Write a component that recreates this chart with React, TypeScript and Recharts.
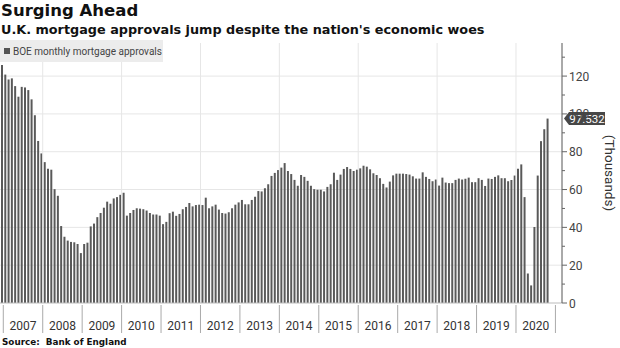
import { BarChart, Bar, XAxis, YAxis, CartesianGrid, ReferenceLine } from "recharts";

// BOE monthly mortgage approvals (thousands), Dec 2006 .. Oct 2020
const dec2006 = [125.8];
const y2007 = [120.8, 118.2, 118.8, 114.7, 109.1, 114.3, 114.0, 112.6, 107.7, 99.3, 85.7, 79.1];
const y2008 = [74.5, 71.0, 70.5, 60.2, 56.7, 40.7, 35.1, 33.0, 32.3, 32.1, 31.2, 26.4];
const y2009 = [31.2, 31.9, 40.5, 42.0, 45.4, 47.6, 50.4, 53.6, 52.5, 55.3, 56.0, 57.2];
const y2010 = [58.3, 46.2, 47.6, 49.2, 50.1, 49.9, 49.6, 48.9, 47.6, 46.8, 46.8, 46.2];
const y2011 = [41.7, 42.9, 47.5, 48.3, 46.1, 47.1, 49.6, 50.8, 52.9, 51.1, 51.8, 52.0];
const y2012 = [51.8, 55.7, 50.1, 51.1, 52.0, 49.4, 47.6, 47.3, 48.0, 50.1, 52.0, 53.2];
const y2013 = [54.5, 52.2, 52.2, 54.5, 56.2, 59.2, 59.0, 60.7, 62.8, 67.2, 68.8, 70.3];
const y2014 = [71.6, 74.0, 69.8, 68.2, 65.1, 62.0, 67.7, 66.7, 64.6, 62.0, 60.2, 59.9];
const y2015 = [59.9, 59.0, 61.4, 62.8, 68.9, 65.1, 67.9, 70.9, 71.9, 70.9, 69.8, 70.5];
const y2016 = [71.2, 72.6, 72.1, 70.7, 68.6, 67.7, 66.0, 63.0, 61.1, 64.2, 67.5, 68.4];
const y2017 = [68.4, 68.4, 68.2, 67.9, 67.0, 65.8, 65.8, 69.1, 66.7, 65.6, 64.4, 65.3];
const y2018 = [62.1, 66.3, 63.7, 63.4, 63.4, 65.1, 65.8, 65.3, 65.7, 66.3, 63.9, 63.9];
const y2019 = [66.0, 65.1, 61.9, 65.8, 65.6, 66.7, 67.5, 66.0, 66.0, 64.4, 65.1, 67.4];
const y2020 = [71.0, 73.3, 56.0, 15.6, 9.3, 40.2, 67.4, 85.6, 91.9, 97.532];

const years = [
  "2007", "2008", "2009", "2010", "2011", "2012", "2013",
  "2014", "2015", "2016", "2017", "2018", "2019", "2020",
];
const yTicks = [0, 10, 20, 30, 40, 50, 60, 70, 80, 90, 100, 110, 120, 130];
const gridValues = [20, 40, 60, 80, 100, 120];
const gridYears = ["2008", "2010", "2012", "2014", "2016", "2018", "2020"];

const values = [
  ...dec2006, ...y2007, ...y2008, ...y2009, ...y2010, ...y2011, ...y2012,
  ...y2013, ...y2014, ...y2015, ...y2016, ...y2017, ...y2018, ...y2019, ...y2020,
];
const lastValue = y2020[y2020.length - 1];

const pad = (m: number) => (m < 10 ? "0" + m : "" + m);
const months: string[] = ["2006-12"];
years.forEach((yr) => {
  for (let m = 1; m <= 12; m++) months.push(`${yr}-${pad(m)}`);
});
months.push("2021-01", "2021-02");

const data = months.map((month, i) => ({
  month,
  approvals: i < values.length ? values[i] : null,
}));

const W = 620;
const H = 348;
const AXIS_W = 58;
const band = (W - AXIS_W) / months.length;
const FONT = "Roboto, 'Open Sans', sans-serif";
const BOLD = "'DejaVu Sans', Verdana, sans-serif";

const YearTick = ({ x, y, payload }: any) => {
  const left = x - band / 2;
  const yr = String(payload.value).slice(0, 4);
  return (
    <g>
      <line x1={left} x2={left} y1={y + 2} y2={y + 30} stroke="#aaa" />
      {years.includes(yr) && (
        <text x={left + band * 6} y={y + 27} textAnchor="middle" fontSize={12} fill="#333" fontFamily={FONT}>
          {yr}
        </text>
      )}
    </g>
  );
};

const ValueTick = ({ x, y, payload }: any) => {
  const major = payload.value % 20 === 0;
  return (
    <g>
      <line x1={x} x2={x + (major ? 5 : 3)} y1={y} y2={y} stroke="#666" />
      {major && (
        <text x={x + 7} y={y + 4.5} fontSize={12} fill="#444" fontFamily={FONT}>
          {payload.value}
        </text>
      )}
    </g>
  );
};

const ValueTag = (props: any) => {
  const vb = props.viewBox;
  const x0 = vb.x + vb.width + 2;
  const y = vb.y;
  return (
    <g>
      <path
        d={`M${x0},${y} L${x0 + 5},${y - 6.5} L${x0 + 41},${y - 6.5} L${x0 + 41},${y + 6.5} L${x0 + 5},${y + 6.5} Z`}
        fill="#474747"
      />
      <text x={x0 + 23} y={y + 4.2} textAnchor="middle" fontSize={11.5} fill="#fff" fontFamily={FONT}>
        {lastValue.toFixed(3)}
      </text>
    </g>
  );
};

export default function App() {
  return (
    <div style={{ position: "absolute", left: 0, top: 0, width: W, height: H, background: "#fff", overflow: "hidden" }}>
      <div style={{ position: "absolute", left: 1, top: 1, fontFamily: BOLD, fontWeight: "bold", fontSize: 16.5, color: "#111", lineHeight: "20px", whiteSpace: "nowrap" }}>
        Surging Ahead
      </div>
      <div style={{ position: "absolute", left: 1, top: 22, fontFamily: BOLD, fontWeight: "bold", fontSize: 12.8, color: "#111", lineHeight: "16px", whiteSpace: "nowrap" }}>
        U.K. mortgage approvals jump despite the nation's economic woes
      </div>

      <BarChart
        width={W}
        height={H}
        data={data}
        margin={{ top: 43, right: 0, left: 0, bottom: 15 }}
        barSize={2}
        style={{ position: "absolute", left: 0, top: 0 }}
      >
        <CartesianGrid vertical={false} horizontalValues={gridValues} stroke="#e6e6e6" />
        {gridYears.map((yr) => (
          <ReferenceLine key={yr} x={`${yr}-01`} position="start" stroke="#e6e6e6" />
        ))}
        <XAxis
          dataKey="month"
          ticks={months.filter((m) => m.endsWith("-01"))}
          interval={0}
          tick={<YearTick />}
          tickLine={false}
          tickSize={0}
          tickMargin={0}
          axisLine={{ stroke: "#bbb" }}
          height={30}
        />
        <YAxis
          orientation="right"
          width={AXIS_W}
          domain={[0, 137.5]}
          ticks={yTicks}
          interval={0}
          tick={<ValueTick />}
          tickLine={false}
          tickSize={0}
          tickMargin={0}
          axisLine={{ stroke: "#555" }}
        />
        <Bar dataKey="approvals" fill="#595959" isAnimationActive={false} />
        <ReferenceLine y={lastValue} stroke="none" label={<ValueTag />} />
      </BarChart>

      <div
        style={{
          position: "absolute", left: 0, top: 40, width: 163, height: 22,
          background: "#ececec", display: "flex", alignItems: "center", whiteSpace: "nowrap",
          fontFamily: FONT, fontSize: 10, color: "#444",
        }}
      >
        <span style={{ display: "inline-block", width: 6, height: 6, background: "#555", margin: "0 3px 0 4px" }} />
        BOE monthly mortgage approvals
      </div>

      <div
        style={{
          position: "absolute", left: 602, top: 173, transform: "translateY(-50%)",
          writingMode: "vertical-rl", fontFamily: FONT, fontSize: 13.5, color: "#333", whiteSpace: "nowrap",
        }}
      >
        (Thousands)
      </div>

      <div style={{ position: "absolute", left: 2, top: 336, fontFamily: BOLD, fontWeight: "bold", fontSize: 8.8, color: "#111", lineHeight: "12px", whiteSpace: "nowrap" }}>
        Source:&nbsp; Bank of England
      </div>
    </div>
  );
}
